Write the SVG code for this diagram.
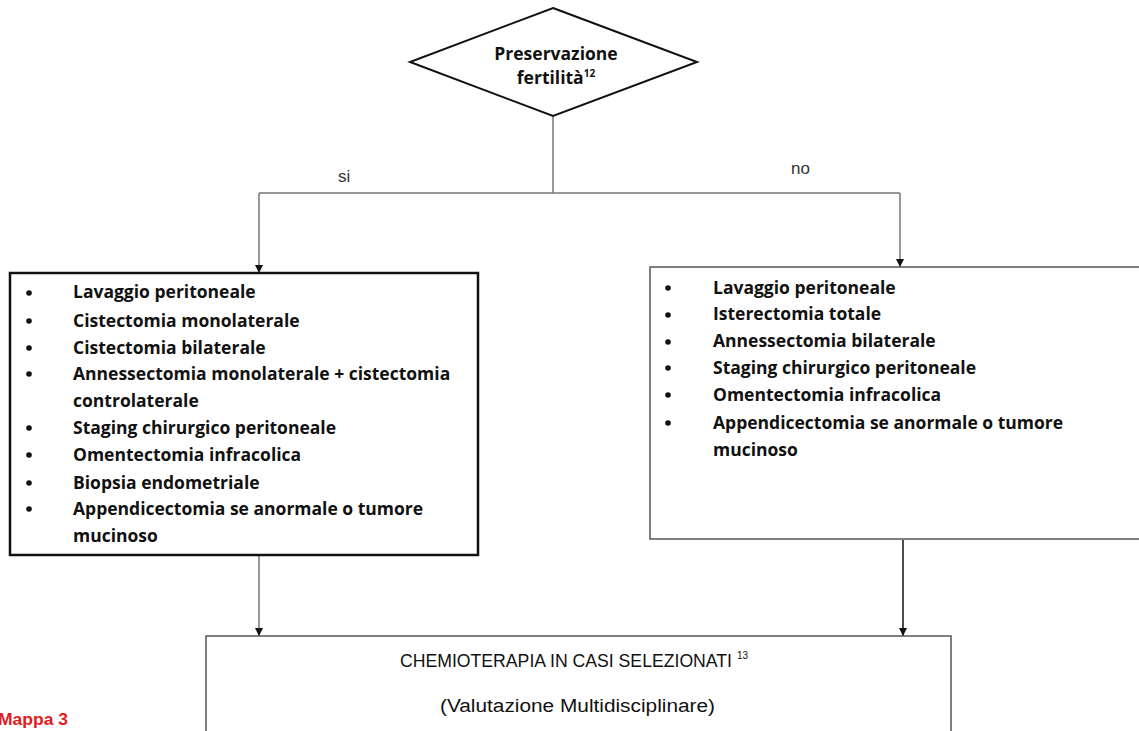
<svg xmlns="http://www.w3.org/2000/svg" width="1139" height="731" viewBox="0 0 1139 731">
<defs>
<style>
.t{font-family:"Open Sans","Liberation Sans",sans-serif;font-weight:bold;font-size:17.5px;fill:#111}
.c{font-family:"Liberation Sans",sans-serif;font-size:18px;fill:#111}
.sup{font-family:"Liberation Sans",sans-serif;font-size:10px;fill:#111}
.lbl{font-family:"Liberation Sans",sans-serif;font-size:17px;fill:#333}
.conn{fill:none;stroke:#777;stroke-width:1.5}
</style>
<marker id="ah" markerWidth="10" markerHeight="10" refX="9" refY="5" orient="auto" markerUnits="userSpaceOnUse" viewBox="0 0 10 10">
<path d="M1,1 L9,5 L1,9 Z" fill="#111"/>
</marker>
</defs>
<rect width="1139" height="731" fill="#fff"/>
<g id="connectors">
<path class="conn" d="M553,116 V193"/>
<path class="conn" d="M259,193 H900"/>
<path class="conn" d="M259,193 V273" marker-end="url(#ah)"/>
<path class="conn" d="M900,193 V267" marker-end="url(#ah)"/>
<path class="conn" d="M259,556 V636" marker-end="url(#ah)"/>
<path class="conn" style="stroke:#111" d="M903,540 V636" marker-end="url(#ah)"/>
<text class="lbl" x="338" y="182">si</text>
<text class="lbl" x="791" y="174">no</text>
</g>
<g id="decision">
<polygon points="553,8 697,62 553,116 410,62" fill="#fff" stroke="#111" stroke-width="2"/>
<text class="t" x="556" y="60" text-anchor="middle">Preservazione</text>
<text class="t" x="556" y="84" text-anchor="middle">fertilità<tspan style="font-size:10px" dy="-7">12</tspan></text>
</g>
<g id="left-box">
<rect x="10" y="273" width="468" height="282" fill="#fff" stroke="#111" stroke-width="2.5"/>
<g class="t">
<text x="73" y="298">Lavaggio peritoneale</text>
<text x="73" y="327">Cistectomia monolaterale</text>
<text x="73" y="354">Cistectomia bilaterale</text>
<text x="73" y="380">Annessectomia monolaterale + cistectomia</text>
<text x="73" y="407">controlaterale</text>
<text x="73" y="434">Staging chirurgico peritoneale</text>
<text x="73" y="461">Omentectomia infracolica</text>
<text x="73" y="489">Biopsia endometriale</text>
<text x="73" y="515">Appendicectomia se anormale o tumore</text>
<text x="73" y="542">mucinoso</text>
</g>
<g fill="#111">
<circle cx="29" cy="293" r="2.8"/><circle cx="29" cy="321" r="2.8"/><circle cx="29" cy="348" r="2.8"/><circle cx="29" cy="374" r="2.8"/><circle cx="29" cy="428" r="2.8"/><circle cx="29" cy="455" r="2.8"/><circle cx="29" cy="483" r="2.8"/><circle cx="29" cy="509" r="2.8"/>
</g>
</g>
<g id="right-box">
<rect x="650" y="267" width="495" height="272" fill="#fff" stroke="#555" stroke-width="1.5"/>
<g class="t">
<text x="713" y="294">Lavaggio peritoneale</text>
<text x="713" y="320">Isterectomia totale</text>
<text x="713" y="347">Annessectomia bilaterale</text>
<text x="713" y="374">Staging chirurgico peritoneale</text>
<text x="713" y="401">Omentectomia infracolica</text>
<text x="713" y="429">Appendicectomia se anormale o tumore</text>
<text x="713" y="456">mucinoso</text>
</g>
<g fill="#111">
<circle cx="668" cy="288" r="2.8"/><circle cx="668" cy="315" r="2.8"/><circle cx="668" cy="342" r="2.8"/><circle cx="668" cy="368" r="2.8"/><circle cx="668" cy="395" r="2.8"/><circle cx="668" cy="423" r="2.8"/>
</g>
</g>
<g id="bottom-box">
<rect x="206" y="636" width="745" height="110" fill="#fff" stroke="#555" stroke-width="1.5"/>
<text class="c" x="400" y="667" textLength="332" lengthAdjust="spacingAndGlyphs">CHEMIOTERAPIA IN CASI SELEZIONATI</text>
<text class="sup" x="737" y="659">13</text>
<text class="c" x="440" y="712" textLength="275" lengthAdjust="spacingAndGlyphs">(Valutazione Multidisciplinare)</text>
</g>
<text x="-2" y="725" font-family="Liberation Sans,sans-serif" font-weight="bold" font-size="16" fill="#e02020" textLength="70" lengthAdjust="spacingAndGlyphs">Mappa 3</text>
</svg>
